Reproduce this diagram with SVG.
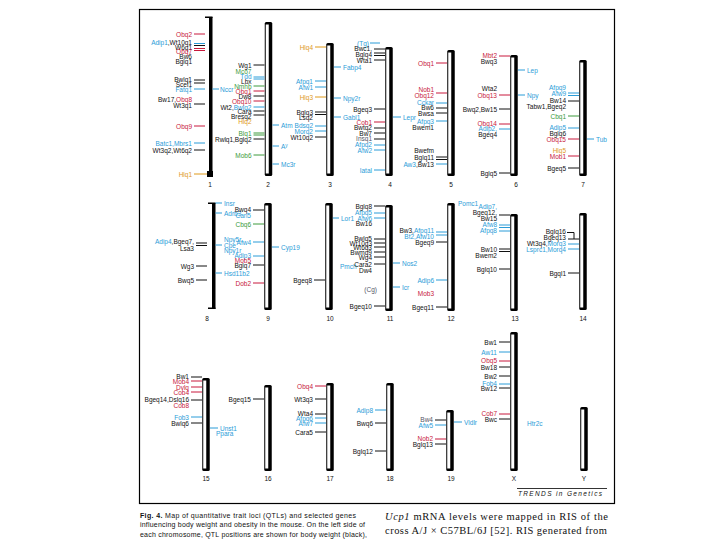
<svg xmlns="http://www.w3.org/2000/svg" width="720" height="540" viewBox="0 0 720 540">
<style>
text{font-family:"Liberation Sans",Arial,sans-serif;font-size:6.5px;fill:#111}
.L{text-anchor:end}
.n{font-size:6.5px;text-anchor:middle}
.r{fill:#c8193c}.b{fill:#2b9cd8}.g{fill:#3c9a3c}.o{fill:#e09a1a}.gy{fill:#556}
#ticks line{stroke-width:1}
.kk{stroke:#111}.kr{stroke:#c8193c}.kb{stroke:#2b9cd8}.kg{stroke:#3c9a3c}.ko{stroke:#e09a1a}
.cb{fill:#000}.cw{fill:#fff}
.cap{font-size:7px}
.ser{font-family:"Liberation Serif","Times New Roman",serif;font-size:10.5px}
</style>
<rect x="0" y="0" width="720" height="540" fill="#fff"/>
<rect x="139.5" y="9.5" width="475" height="494" fill="none" stroke="#000" stroke-width="1.2"/>

<g id="bars">
<g id="chr1"><rect class="cb" x="209" y="17" width="3.5" height="158"/><rect class="cb" x="205" y="16.5" width="7.5" height="1.5"/><rect class="cb" x="207" y="171" width="6" height="6"/><text class="n" x="210" y="186.5">1</text></g>
<g id="chr2"><rect class="cb" x="264.75" y="22" width="7.5" height="154" rx="1.5"/><rect class="cw" x="265.75" y="24.5" width="3" height="149"/><text class="n" x="268" y="186.5">2</text></g>
<g id="chr3"><rect class="cb" x="326.25" y="43" width="7.5" height="133" rx="1.5"/><rect class="cw" x="327.25" y="45.5" width="3" height="128"/><text class="n" x="330" y="186.5">3</text></g>
<g id="chr4"><rect class="cb" x="385.25" y="47" width="7.5" height="129" rx="1.5"/><rect class="cw" x="386.25" y="49.5" width="3" height="124"/><text class="n" x="390" y="186.5">4</text></g>
<g id="chr5"><rect class="cb" x="447.25" y="50" width="7.5" height="126" rx="1.5"/><rect class="cw" x="448.25" y="52.5" width="3" height="121"/><text class="n" x="451" y="186.5">5</text></g>
<g id="chr6"><rect class="cb" x="510.25" y="55" width="7.5" height="121" rx="1.5"/><rect class="cw" x="511.25" y="57.5" width="3" height="116"/><text class="n" x="516" y="186.5">6</text></g>
<g id="chr7"><rect class="cb" x="579.25" y="60" width="7.5" height="116" rx="1.5"/><rect class="cw" x="580.25" y="62.5" width="3" height="111"/><text class="n" x="583" y="186.5">7</text></g>

<g id="chr8"><rect class="cb" x="212" y="203" width="3.5" height="106"/><rect class="cb" x="208" y="202.5" width="7.5" height="1.5"/><rect class="cb" x="208" y="307.5" width="7.5" height="1.5"/><text class="n" x="207" y="320.5">8</text></g>
<g id="chr9"><rect class="cb" x="264.25" y="203" width="7.5" height="107" rx="1.5"/><rect class="cw" x="265.25" y="205.5" width="3" height="102"/><text class="n" x="268" y="320.5">9</text></g>
<g id="chr10"><rect class="cb" x="325.25" y="203" width="7.5" height="107" rx="1.5"/><rect class="cw" x="326.25" y="205.5" width="3" height="102"/><text class="n" x="330" y="320.5">10</text></g>
<g id="chr11"><rect class="cb" x="385.25" y="205" width="7.5" height="106" rx="1.5"/><rect class="cw" x="386.25" y="207.5" width="3" height="101"/><text class="n" x="390" y="320.5">11</text></g>
<g id="chr12"><rect class="cb" x="447.25" y="203" width="7.5" height="108" rx="1.5"/><rect class="cw" x="448.25" y="205.5" width="3" height="103"/><text class="n" x="451" y="320.5">12</text></g>
<g id="chr13"><rect class="cb" x="510.25" y="214" width="7.5" height="97" rx="1.5"/><rect class="cw" x="511.25" y="216.5" width="3" height="92"/><text class="n" x="515" y="320.5">13</text></g>
<g id="chr14"><rect class="cb" x="579.25" y="213" width="7.5" height="97" rx="1.5"/><rect class="cw" x="580.25" y="215.5" width="3" height="92"/><text class="n" x="583" y="320.5">14</text></g>

<g id="chr15"><rect class="cb" x="202.25" y="378" width="7.5" height="93" rx="1.5"/><rect class="cw" x="203.25" y="380.5" width="3" height="88"/><text class="n" x="206" y="480.5">15</text></g>
<g id="chr16"><rect class="cb" x="264.25" y="385" width="7.5" height="86" rx="1.5"/><rect class="cw" x="265.25" y="387.5" width="3" height="81"/><text class="n" x="268" y="480.5">16</text></g>
<g id="chr17"><rect class="cb" x="326.25" y="383" width="7.5" height="88" rx="1.5"/><rect class="cw" x="327.25" y="385.5" width="3" height="83"/><text class="n" x="330" y="480.5">17</text></g>
<g id="chr18"><rect class="cb" x="386.25" y="383" width="7.5" height="88" rx="1.5"/><rect class="cw" x="387.25" y="385.5" width="3" height="83"/><text class="n" x="390" y="480.5">18</text></g>
<g id="chr19"><rect class="cb" x="446.25" y="410" width="7.5" height="61" rx="1.5"/><rect class="cw" x="447.25" y="412.5" width="3" height="56"/><text class="n" x="451" y="480.5">19</text></g>
<g id="chrX"><rect class="cb" x="510.25" y="332" width="7.5" height="139" rx="1.5"/><rect class="cw" x="511.25" y="334.5" width="3" height="134"/><text class="n" x="514" y="480.5">X</text></g>
<g id="chrY"><rect class="cb" x="580.25" y="407" width="7.5" height="64" rx="1.5"/><rect class="cw" x="581.25" y="409.5" width="3" height="59"/><text class="n" x="584" y="480.5">Y</text></g>
</g>

<g id="ticks">
<line class="kr" x1="194" y1="34" x2="205" y2="34"/>
<line class="kb" x1="194" y1="43.5" x2="205" y2="43.5"/>
<line class="kk" x1="194" y1="45.5" x2="205" y2="45.5"/>
<line class="kr" x1="194" y1="48.5" x2="205" y2="48.5"/>
<line class="kr" x1="194" y1="50.5" x2="205" y2="50.5"/>
<line class="kk" x1="194" y1="80" x2="205" y2="80"/>
<line class="kk" x1="194" y1="83" x2="205" y2="83"/>
<line class="kb" x1="194" y1="89" x2="205" y2="89"/>
<line class="kb" x1="212.5" y1="89" x2="219" y2="89"/>
<line class="kk" x1="194" y1="104" x2="205" y2="104"/>
<line class="kr" x1="194" y1="126" x2="205" y2="126"/>
<line class="kb" x1="194" y1="143" x2="205" y2="143"/>
<line class="kk" x1="194" y1="150" x2="205" y2="150"/>
<line class="ko" x1="194" y1="174" x2="207" y2="174"/>
<line class="kk" x1="253.5" y1="65" x2="264.5" y2="65"/>
<line class="kb" x1="253.5" y1="77" x2="264.5" y2="77"/>
<line class="kb" x1="253.5" y1="79" x2="264.5" y2="79"/>
<line class="kg" x1="253.5" y1="86" x2="264.5" y2="86"/>
<line class="kr" x1="253.5" y1="91" x2="264.5" y2="91"/>
<line class="kk" x1="253.5" y1="96" x2="264.5" y2="96"/>
<line class="kr" x1="253.5" y1="101" x2="264.5" y2="101"/>
<line class="kb" x1="253.5" y1="107" x2="264.5" y2="107"/>
<line class="kk" x1="253.5" y1="111" x2="264.5" y2="111"/>
<line class="kk" x1="253.5" y1="115" x2="264.5" y2="115"/>
<line class="kg" x1="253.5" y1="133" x2="264.5" y2="133"/>
<line class="kg" x1="253.5" y1="135" x2="264.5" y2="135"/>
<line class="kk" x1="253.5" y1="139" x2="264.5" y2="139"/>
<line class="kg" x1="253.5" y1="155" x2="264.5" y2="155"/>
<line class="kb" x1="272.5" y1="125" x2="279" y2="125"/>
<line class="kb" x1="272.5" y1="146" x2="279" y2="146"/>
<line class="kb" x1="272.5" y1="164" x2="279" y2="164"/>
<line class="ko" x1="315" y1="47" x2="326" y2="47"/>
<line class="kb" x1="334" y1="67" x2="341" y2="67"/>
<line class="kb" x1="315" y1="81" x2="326" y2="81"/>
<line class="kb" x1="315" y1="87" x2="326" y2="87"/>
<line class="ko" x1="315" y1="97" x2="326" y2="97"/>
<line class="kb" x1="334" y1="98" x2="341" y2="98"/>
<line class="kk" x1="315" y1="112" x2="326" y2="112"/>
<line class="kk" x1="315" y1="114.5" x2="326" y2="114.5"/>
<line class="kb" x1="334" y1="117" x2="341" y2="117"/>
<line class="kb" x1="315" y1="126" x2="326" y2="126"/>
<line class="kb" x1="315" y1="131" x2="326" y2="131"/>
<line class="kk" x1="315" y1="137" x2="326" y2="137"/>
<line class="kb" x1="370" y1="43" x2="380" y2="43"/>
<line class="kk" x1="374" y1="49" x2="385" y2="49"/>
<line class="kk" x1="374" y1="53" x2="385" y2="53"/>
<line class="kk" x1="374" y1="55.5" x2="385" y2="55.5"/>
<line class="kk" x1="374" y1="60" x2="385" y2="60"/>
<line class="kk" x1="374" y1="109" x2="385" y2="109"/>
<line class="kb" x1="393" y1="117" x2="401" y2="117"/>
<line class="kr" x1="374" y1="122" x2="385" y2="122"/>
<line class="kk" x1="374" y1="128" x2="385" y2="128"/>
<line class="kk" x1="374" y1="133" x2="385" y2="133"/>
<line class="kk" x1="374" y1="139" x2="385" y2="139"/>
<line class="kb" x1="374" y1="145" x2="385" y2="145"/>
<line class="kb" x1="374" y1="150" x2="385" y2="150"/>
<line class="kb" x1="374" y1="170" x2="385" y2="170"/>
<line class="kr" x1="436" y1="63" x2="447" y2="63"/>
<line class="kr" x1="436" y1="93" x2="447" y2="93" stroke-width="2"/>
<line class="kb" x1="436" y1="103" x2="447" y2="103"/>
<line class="kk" x1="436" y1="108" x2="447" y2="108"/>
<line class="kk" x1="436" y1="113" x2="447" y2="113"/>
<line class="kb" x1="436" y1="121" x2="447" y2="121"/>
<line class="kk" x1="436" y1="157" x2="447" y2="157"/>
<line class="kk" x1="436" y1="159.5" x2="447" y2="159.5"/>
<line class="kb" x1="436" y1="164" x2="447" y2="164"/>
<line class="kr" x1="499" y1="56" x2="510" y2="56"/>
<line class="kb" x1="518" y1="70" x2="525" y2="70"/>
<line class="kr" x1="499" y1="95" x2="510" y2="95"/>
<line class="kb" x1="518" y1="95" x2="525" y2="95"/>
<line class="kk" x1="499" y1="109" x2="510" y2="109"/>
<line class="kr" x1="499" y1="124" x2="510" y2="124"/>
<line class="kb" x1="499" y1="129" x2="510" y2="129"/>
<line class="kk" x1="499" y1="173" x2="510" y2="173"/>
<line class="kb" x1="568" y1="93" x2="579" y2="93"/>
<line class="kb" x1="568" y1="95.5" x2="579" y2="95.5"/>
<line class="kk" x1="568" y1="101" x2="579" y2="101"/>
<line class="kg" x1="568" y1="116" x2="579" y2="116"/>
<line class="kb" x1="568" y1="128" x2="579" y2="128"/>
<line class="kr" x1="568" y1="139" x2="579" y2="139"/>
<line class="kb" x1="587" y1="139" x2="594" y2="139"/>
<line class="kr" x1="568" y1="156" x2="579" y2="156"/>
<line class="kk" x1="568" y1="168" x2="579" y2="168"/>
<line class="kb" x1="215.5" y1="203" x2="222" y2="203"/>
<line class="kb" x1="215.5" y1="213" x2="222" y2="213"/>
<line class="kb" x1="215.5" y1="245" x2="222" y2="245" stroke-width="2"/>
<line class="kb" x1="215.5" y1="273" x2="222" y2="273"/>
<line class="kk" x1="196" y1="243" x2="207" y2="243"/>
<line class="kk" x1="196" y1="245.5" x2="207" y2="245.5"/>
<line class="kk" x1="196" y1="266" x2="207" y2="266"/>
<line class="kk" x1="196" y1="280" x2="207" y2="280"/>
<line class="kk" x1="253" y1="210" x2="264" y2="210"/>
<line class="kg" x1="253" y1="224" x2="264" y2="224"/>
<line class="kb" x1="253" y1="242" x2="264" y2="242"/>
<line class="kb" x1="272" y1="247" x2="279" y2="247"/>
<line class="kb" x1="253" y1="256" x2="264" y2="256"/>
<line class="kk" x1="253" y1="265" x2="264" y2="265"/>
<line class="kr" x1="253" y1="283" x2="264" y2="283"/>
<line class="kb" x1="333" y1="218" x2="339" y2="218"/>
<line class="kk" x1="314" y1="280" x2="325" y2="280"/>
<line class="kk" x1="374" y1="206" x2="385" y2="206"/>
<line class="kb" x1="374" y1="213" x2="385" y2="213"/>
<line class="kb" x1="374" y1="218" x2="385" y2="218"/>
<line class="kk" x1="374" y1="239" x2="385" y2="239"/>
<line class="kk" x1="374" y1="243" x2="385" y2="243"/>
<line class="kk" x1="374" y1="247" x2="385" y2="247"/>
<line class="kk" x1="374" y1="252" x2="385" y2="252"/>
<line class="kk" x1="374" y1="257" x2="385" y2="257"/>
<line class="kk" x1="374" y1="264" x2="385" y2="264"/>
<line class="kk" x1="374" y1="306" x2="385" y2="306"/>
<line class="kb" x1="393" y1="263" x2="400" y2="263"/>
<line class="kb" x1="393" y1="287" x2="400" y2="287"/>
<line class="kb" x1="436" y1="232" x2="447" y2="232"/>
<line class="kb" x1="436" y1="235" x2="447" y2="235"/>
<line class="kk" x1="436" y1="242" x2="447" y2="242"/>
<line class="kb" x1="436" y1="280" x2="447" y2="280"/>
<line class="kk" x1="436" y1="307" x2="447" y2="307"/>
<line class="kk" x1="499" y1="215" x2="510" y2="215"/>
<line class="kb" x1="499" y1="225" x2="510" y2="225"/>
<line class="kb" x1="499" y1="227.5" x2="510" y2="227.5"/>
<line class="kb" x1="499" y1="231" x2="510" y2="231"/>
<line class="kk" x1="499" y1="249" x2="510" y2="249"/>
<line class="kk" x1="499" y1="251.5" x2="510" y2="251.5"/>
<line class="kk" x1="499" y1="269" x2="510" y2="269"/>
<path class="kk" d="M567,232.5H574V239" fill="none"/>
<line class="kk" x1="568" y1="239" x2="579" y2="239"/>
<line class="kb" x1="568" y1="244" x2="579" y2="244"/>
<line class="kb" x1="568" y1="249" x2="579" y2="249" stroke-width="1.6"/>
<line class="kk" x1="568" y1="273" x2="579" y2="273"/>
<line class="kk" x1="191" y1="377" x2="202" y2="377"/>
<line class="kr" x1="191" y1="381" x2="202" y2="381"/>
<line class="kr" x1="191" y1="387" x2="202" y2="387"/>
<line class="kr" x1="191" y1="392" x2="202" y2="392"/>
<line class="kk" x1="191" y1="400" x2="202" y2="400"/>
<line class="kb" x1="191" y1="417" x2="202" y2="417"/>
<line class="kk" x1="191" y1="423" x2="202" y2="423"/>
<line class="kb" x1="210" y1="428" x2="218" y2="428"/>
<line class="kk" x1="253" y1="399" x2="264" y2="399"/>
<line class="kr" x1="315" y1="386" x2="326" y2="386"/>
<line class="kk" x1="315" y1="399" x2="326" y2="399"/>
<line class="kk" x1="315" y1="414" x2="326" y2="414"/>
<line class="kb" x1="315" y1="418" x2="326" y2="418"/>
<line class="kb" x1="315" y1="423" x2="326" y2="423"/>
<line class="kk" x1="315" y1="432" x2="326" y2="432"/>
<line class="kb" x1="375" y1="410" x2="386" y2="410"/>
<line class="kk" x1="375" y1="423" x2="386" y2="423"/>
<line class="kk" x1="375" y1="451" x2="386" y2="451"/>
<line class="kk" x1="435" y1="420" x2="446" y2="420"/>
<line class="kb" x1="435" y1="425" x2="446" y2="425"/>
<line class="kb" x1="454" y1="422" x2="462" y2="422"/>
<line class="kr" x1="435" y1="439" x2="446" y2="439"/>
<line class="kk" x1="435" y1="444" x2="446" y2="444"/>
<line class="kk" x1="499" y1="342" x2="510" y2="342"/>
<line class="kb" x1="499" y1="352" x2="510" y2="352"/>
<line class="kr" x1="499" y1="361" x2="510" y2="361"/>
<line class="kk" x1="499" y1="367" x2="510" y2="367"/>
<line class="kk" x1="499" y1="376" x2="510" y2="376"/>
<line class="kb" x1="499" y1="384" x2="510" y2="384"/>
<line class="kk" x1="499" y1="388" x2="510" y2="388"/>
<line class="kr" x1="499" y1="414" x2="510" y2="414"/>
<line class="kk" x1="499" y1="419" x2="510" y2="419"/>
</g>

<g id="labels">
<g id="lab1">
<text class="L r" x="192" y="36.5">Obq2</text>
<text class="L" x="192" y="44.5"><tspan class="b">Adip1</tspan>,Wt10q1</text>
<text class="L" x="192" y="49.5">W6q1</text>
<text class="L r" x="192" y="54">Obq7</text>
<text class="L" x="192" y="58.5">Bw6</text>
<text class="L" x="192" y="63.5">Bglq1</text>
<text class="L" x="192" y="82">Bwlq1</text>
<text class="L" x="192" y="87">Scel1</text>
<text class="L b" x="192" y="92">Fatq1</text>
<text class="b" x="220" y="91.5">Nccr</text>
<text class="L" x="192" y="102">Bw17,<tspan class="r">Obq8</tspan></text>
<text class="L" x="192" y="107.5">Wt3q1</text>
<text class="L r" x="192" y="128.5">Obq9</text>
<text class="L b" x="192" y="145.5">Batc1,Mbrs1</text>
<text class="L" x="192" y="152.5">Wt3q2,Wt6q2</text>
<text class="L o" x="192" y="176.5">Hlq1</text>
</g>
<g id="lab2">
<text class="L" x="251.5" y="67.5">Wg1</text>
<text class="L g" x="251.5" y="73.5">Mco7</text>
<text class="L b" x="251.5" y="79">Tdd</text>
<text class="L" x="251.5" y="84">Lbx</text>
<text class="L g" x="251.5" y="89">Nmhb</text>
<text class="L r" x="251.5" y="94">Obq1</text>
<text class="L" x="251.5" y="99">Dw8</text>
<text class="L r" x="251.5" y="104">Obq10</text>
<text class="L" x="251.5" y="109.5">Wt2,<tspan class="b">Bwlq2</tspan></text>
<text class="L" x="251.5" y="114">Cara</text>
<text class="L" x="251.5" y="118.5">Bresq2</text>
<text class="L o" x="251.5" y="124">Hlq2</text>
<text class="L g" x="251.5" y="135.5">Blq1</text>
<text class="L" x="251.5" y="141.5">Rwlq1,Bglq2</text>
<text class="L g" x="251.5" y="157.5">Mob6</text>
<text class="b" x="281" y="127.5">Atm</text>
<text class="b" x="281" y="148.5">A<tspan dy="-2" font-size="5">y</tspan></text>
<text class="b" x="281" y="166.5">Mc3r</text>
</g>
<g id="lab3">
<text class="L o" x="313" y="49.5">Hlq4</text>
<text class="b" x="343" y="69.5">Fabp4</text>
<text class="L b" x="313" y="83.5">Afpq1</text>
<text class="L b" x="313" y="89.5">Afw1</text>
<text class="L o" x="313" y="99.5">Hlq3</text>
<text class="b" x="343" y="100.5">Npy2r</text>
<text class="L" x="313" y="115">Bglq3</text>
<text class="L" x="313" y="120">Lsq2</text>
<text class="b" x="343" y="119.5">Gabl1</text>
<text class="L b" x="313" y="128">Bdsq2</text>
<text class="L b" x="313" y="133.5">Morq2</text>
<text class="L" x="313" y="139.5">Wt10q2</text>
</g>
<g id="lab4">
<text class="L b" x="369" y="45.5">(Tg)</text>
<text class="L" x="372" y="51">Bwc1,</text>
<text class="L" x="372" y="56.5">Bglq4</text>
<text class="L" x="372" y="62.5">Wta1</text>
<text class="L" x="372" y="111.5">Bgeq3</text>
<text class="b" x="403" y="119.5">Lepr</text>
<text class="L r" x="372" y="124.5">Cob1</text>
<text class="L" x="372" y="130">Bwtq2</text>
<text class="L" x="372" y="135.5">Bw7</text>
<text class="L gy" x="372" y="141">Insq1</text>
<text class="L b" x="372" y="147">Afpq2</text>
<text class="L b" x="372" y="152.5">Afw2</text>
<text class="L b" x="372" y="172.5">Iatal</text>
</g>
<g id="lab5">
<text class="L r" x="434" y="65.5">Obq1</text>
<text class="L r" x="434" y="92">Nob1</text>
<text class="L r" x="434" y="98">Obq12</text>
<text class="L b" x="434" y="104.5">Cckar</text>
<text class="L" x="434" y="110">Bw6</text>
<text class="L" x="434" y="115.5">Bwsa</text>
<text class="L b" x="434" y="123.5">Afpq3</text>
<text class="L" x="434" y="129.5">Bwem1</text>
<text class="L" x="434" y="152.5">Bwefm</text>
<text class="L" x="434" y="160">Bglq11</text>
<text class="L" x="434" y="166.5"><tspan class="b">Aw3</tspan>,Bw13</text>
</g>
<g id="lab6">
<text class="L r" x="497" y="58">Mbt2</text>
<text class="L" x="497" y="64">Bwq3</text>
<text class="b" x="527" y="72.5">Lep</text>
<text class="L" x="497" y="91">Wta2</text>
<text class="L r" x="497" y="97.5">Obq13</text>
<text class="b" x="527" y="97.5">Npy</text>
<text class="L" x="497" y="111.5">Bwq2,Bw15</text>
<text class="L r" x="497" y="126">Obq14</text>
<text class="L b" x="497" y="131">Adip2,</text>
<text class="L" x="497" y="136.5">Bgeq4</text>
<text class="L" x="497" y="175.5">Bglq5</text>
</g>
<g id="lab7">
<text class="L b" x="566" y="90">Afpq9</text>
<text class="L b" x="566" y="96">Afw9</text>
<text class="L" x="566" y="103">Bw14</text>
<text class="L" x="566" y="108.5">Tabw1,Bgeq2</text>
<text class="L g" x="566" y="118.5">Cbq1</text>
<text class="L b" x="566" y="130">Adip5</text>
<text class="L" x="566" y="135.5">Bglq6</text>
<text class="L r" x="566" y="141.5">Obq15</text>
<text class="b" x="596" y="141.5">Tub</text>
<text class="L o" x="566" y="152.5">Hlq5</text>
<text class="L r" x="566" y="158.5">Mob1</text>
<text class="L" x="566" y="170.5">Bgeq5</text>
</g>
<g id="lab8">
<text class="b" x="224" y="205.5">Insr</text>
<text class="b" x="224" y="215.5">Adrb3</text>
<text class="b" x="224" y="242">Npy5r,</text>
<text class="b" x="224" y="247.5">Cpe</text>
<text class="b" x="224" y="253">Npy1r</text>
<text class="b" x="224" y="275.5">Hsd11b2</text>
<text class="L" x="194" y="244"><tspan class="b">Adip4</tspan>,Bgeq7,</text>
<text class="L" x="194" y="250.5">Lsa3</text>
<text class="L" x="194" y="268.5">Wg3</text>
<text class="L" x="194" y="282.5">Bwq5</text>
</g>
<g id="lab9">
<text class="L" x="251" y="212">Bwq4</text>
<text class="L b" x="251" y="218">Carl5</text>
<text class="L g" x="251" y="226.5">Cbq6</text>
<text class="L b" x="251" y="244.5">Afw4</text>
<text class="b" x="281" y="249.5">Cyp19</text>
<text class="L b" x="251" y="258">Adip3</text>
<text class="L r" x="251" y="263">Mob5</text>
<text class="L" x="251" y="268">Bglq7</text>
<text class="L r" x="251" y="285.5">Dob2</text>
</g>
<g id="lab10">
<text class="b" x="341" y="220.5">Lor1</text>
<text class="b" x="340" y="268.5">Pmch</text>
<text class="L" x="312" y="282.5">Bgeq8</text>
</g>
<g id="lab11">
<text class="L" x="372" y="208.5">Bglq8</text>
<text class="L b" x="372" y="215">Afpq5</text>
<text class="L b" x="372" y="220.5">Afw6</text>
<text class="L" x="372" y="226">Bw16</text>
<text class="L" x="372" y="241">Bwlq5</text>
<text class="L" x="372" y="245.5">Wt10q3</text>
<text class="L" x="372" y="250">Wt6q3</text>
<text class="L" x="372" y="254.5">Bwmq9</text>
<text class="L" x="372" y="259.5">Wg4</text>
<text class="L" x="372" y="266.5">Cara2</text>
<text class="L" x="372" y="272.5">Dw4</text>
<text class="L gy" x="377" y="291.5">(Cg)</text>
<text class="L" x="372" y="308.5">Bgeq10</text>
<text class="b" x="402" y="265.5">Nos2</text>
<text class="b" x="402" y="289.5">Icr</text>
</g>
<g id="lab12">
<text class="b" x="458" y="205.5">Pomc1</text>
<text class="L" x="434" y="233">Bw3,<tspan class="b">Afpq11</tspan></text>
<text class="L b" x="434" y="238.5">Bt2,Afw10</text>
<text class="L" x="434" y="244.5">Bgeq9</text>
<text class="L b" x="434" y="282.5">Adip6</text>
<text class="L r" x="434" y="295.5">Mob3</text>
<text class="L" x="434" y="309.5">Bgeq11</text>
</g>
<g id="lab13">
<text class="L b" x="497" y="209">Adip7,</text>
<text class="L" x="497" y="215">Bgeq12,</text>
<text class="L" x="497" y="221">Bw15</text>
<text class="L b" x="497" y="227">Afw8</text>
<text class="L b" x="497" y="233">Afpq8</text>
<text class="L" x="497" y="252">Bw10</text>
<text class="L" x="497" y="258">Bwem2</text>
<text class="L" x="497" y="271.5">Bglq10</text>
</g>
<g id="lab14">
<text class="L" x="566" y="234">Bglq16</text>
<text class="L" x="566" y="240">Bgeq13</text>
<text class="L" x="566" y="246">Wt3q4,<tspan class="b">Morq3</tspan></text>
<text class="L b" x="566" y="251.5">Lsprc1,Morq4</text>
<text class="L" x="566" y="275.5">Bgql1</text>
</g>
<g id="lab15">
<text class="L" x="189" y="379">Bw1</text>
<text class="L r" x="189" y="384">Mob4</text>
<text class="L r" x="189" y="389.5">Dvlq</text>
<text class="L r" x="189" y="395">Cob4</text>
<text class="L" x="189" y="402">Bgeq14,Dslq16</text>
<text class="L r" x="189" y="407.5">Cob8</text>
<text class="L b" x="189" y="419.5">Fob3</text>
<text class="L" x="189" y="425.5">Bwlq6</text>
<text class="b" x="220" y="430.5">Unst1</text>
<text class="b" x="216" y="436">Ppara</text>
</g>
<g id="lab16">
<text class="L" x="251" y="401.5">Bgeq15</text>
</g>
<g id="lab17">
<text class="L r" x="313" y="388.5">Obq4</text>
<text class="L" x="313" y="401.5">Wt3q3</text>
<text class="L" x="313" y="415.5">Wta4</text>
<text class="L b" x="313" y="420.5">Afpq6</text>
<text class="L b" x="313" y="425.5">Afw7</text>
<text class="L" x="313" y="434.5">Cara5</text>
</g>
<g id="lab18">
<text class="L b" x="373" y="412.5">Adip8</text>
<text class="L" x="373" y="425.5">Bwq6</text>
<text class="L" x="373" y="453.5">Bglq12</text>
</g>
<g id="lab19">
<text class="L gy" x="433" y="422">Bw4</text>
<text class="L b" x="433" y="427.5">Afw5</text>
<text class="b" x="464" y="424.5">Vldlr</text>
<text class="L r" x="433" y="441">Nob2</text>
<text class="L" x="433" y="446.5">Bglq13</text>
</g>
<g id="labX">
<text class="L" x="497" y="344.5">Bw1</text>
<text class="L b" x="497" y="354.5">Aw11</text>
<text class="L r" x="497" y="363">Obq5</text>
<text class="L" x="497" y="369.5">Bw18</text>
<text class="L" x="497" y="378.5">Bw2</text>
<text class="L b" x="497" y="385.5">Fob4</text>
<text class="L" x="497" y="391">Bw12</text>
<text class="L r" x="497" y="416">Cob7</text>
<text class="L" x="497" y="421.5">Bwc</text>
<text class="b" x="527" y="425.5">Htr2c</text>
</g>
</g>

<g id="credit">
<line x1="517" y1="488.5" x2="607" y2="488.5" stroke="#000" stroke-width="0.8"/>
<text x="518" y="496" font-size="6.5" font-style="italic" textLength="84">TRENDS in Genetics</text>
</g>

<g id="caption">
<text class="cap" x="140" y="517.5" textLength="216"><tspan font-weight="bold">Fig. 4.</tspan> Map of quantitative trait loci (QTLs) and selected genes</text>
<text class="cap" x="140" y="527" textLength="225">influencing body weight and obesity in the mouse. On the left side of</text>
<text class="cap" x="140" y="536.5" textLength="227">each chromosome, QTL positions are shown for body weight (black),</text>
<text class="ser" x="385" y="519.5" textLength="223"><tspan font-style="italic">Ucp1</tspan> mRNA levels were mapped in RIS of the</text>
<text class="ser" x="385" y="533.5" textLength="222">cross A/J × C57BL/6J [52]. RIS generated from</text>
</g>
</svg>
